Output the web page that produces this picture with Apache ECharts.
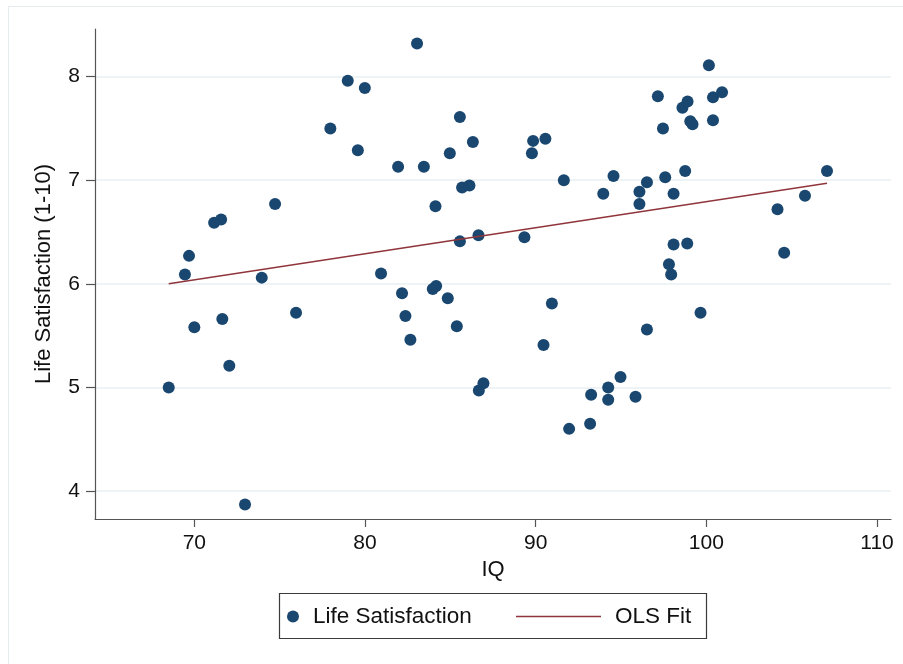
<!DOCTYPE html>
<html>
<head>
<meta charset="utf-8">
<script src="https://cdn.jsdelivr.net/npm/echarts@6/dist/echarts.min.js"></script>
<style>
html,body{margin:0;padding:0;background:#fff;}
#chart{width:903px;height:664px;}
</style>
</head>
<body>
<div id="chart"></div>
<script>
// IQ values (x) and life satisfaction (y)
const iq = [68.5,69.45,69.69,70.0,71.16,71.57,71.64,72.05,72.97,73.95,74.73,75.96,77.97,78.99,79.58,79.99,80.94,81.94,82.17,82.37,82.66,83.05,83.45,83.97,84.17,84.13,84.85,84.97,85.38,85.56,85.56,85.69,86.12,86.32,86.65,86.67,86.94,89.34,89.78,89.85,90.57,90.46,90.95,91.65,91.96,93.19,93.25,93.96,94.25,94.25,94.56,94.97,95.85,96.08,96.08,96.52,96.52,97.16,97.46,97.59,97.81,97.94,98.08,98.08,98.6,98.76,98.88,98.9,99.06,99.19,99.66,100.15,100.39,100.39,100.92,104.17,104.56,105.78,107.07];
const lifeSat = [5.00,6.09,6.27,5.58,6.59,6.62,5.66,5.21,3.87,6.06,6.77,5.72,7.50,7.96,7.29,7.89,6.10,7.13,5.91,5.69,5.46,8.32,7.13,5.95,5.98,6.75,5.86,7.26,5.59,7.61,6.41,6.93,6.95,7.37,6.47,4.97,5.04,6.45,7.26,7.38,7.40,5.41,5.81,7.00,4.60,4.65,4.93,6.87,5.00,4.88,7.04,5.10,4.91,6.89,6.77,6.98,5.56,7.81,7.50,7.03,6.19,6.09,6.87,6.38,7.70,7.09,6.39,7.76,7.57,7.54,5.72,8.11,7.80,7.58,7.85,6.72,6.30,6.85,7.09];
// OLS fit endpoints
const fitX = [68.5, 107.07];
const fitY = [6.00, 6.97];
const xTicks = [70, 80, 90, 100, 110];
const yTicks = [4, 5, 6, 7, 8];

const scatterData = iq.map((v, i) => [v, lifeSat[i]]);
const fitData = fitX.map((v, i) => [v, fitY[i]]);

const FONT = 'Liberation Sans, Arial, Helvetica, sans-serif';
const chart = echarts.init(document.getElementById('chart'), null, {renderer: 'canvas'});
chart.setOption({
  backgroundColor: '#ffffff',
  animation: false,
  graphic: [
    {type: 'rect', shape: {x: 8.5, y: 6.5, width: 1000, height: 1000}, style: {fill: 'none', stroke: '#e6ecee', lineWidth: 1}, z: -1},
    {type: 'rect', shape: {x: 279.5, y: 593.5, width: 427, height: 45}, style: {fill: '#fff', stroke: '#3a3a3a', lineWidth: 1.2}, z: 0}
  ],
  grid: {left: 95, right: 12, top: 29, bottom: 145},
  xAxis: {
    type: 'value', min: 64.18, max: 110.82,
    name: 'IQ', nameLocation: 'middle', nameGap: 40,
    nameTextStyle: {fontFamily: FONT, fontSize: 22, color: '#111'},
    axisLine: {show: true, onZero: false, lineStyle: {color: '#555', width: 1.2}},
    axisTick: {show: true, inside: false, length: 8, lineStyle: {color: '#555', width: 1.2}, customValues: xTicks},
    axisLabel: {fontFamily: FONT, fontSize: 21, color: '#111', margin: 14, customValues: xTicks},
    splitLine: {show: false}
  },
  yAxis: {
    type: 'value', min: 3.73, max: 8.46,
    name: 'Life Satisfaction (1-10)', nameLocation: 'middle', nameGap: 40, nameRotate: 90,
    nameTextStyle: {fontFamily: FONT, fontSize: 22, color: '#111'},
    axisLine: {show: true, onZero: false, lineStyle: {color: '#555', width: 1.2}},
    axisTick: {show: true, inside: false, length: 9, lineStyle: {color: '#555', width: 1.2}, customValues: yTicks},
    axisLabel: {fontFamily: FONT, fontSize: 21, color: '#111', margin: 15, customValues: yTicks},
    splitLine: {show: true, lineStyle: {color: '#e8eff3', width: 1.5}}
  },
  legend: [
    {
      data: ['Life Satisfaction'], left: 287, top: 605, icon: 'circle',
      itemWidth: 12, itemHeight: 12, padding: 0,
      textStyle: {fontFamily: FONT, fontSize: 22.5, color: '#111', padding: [0, 0, 0, 9]}
    },
    {
      data: [{name: 'OLS Fit', icon: 'rect', itemStyle: {color: '#90353b'}}], left: 516, top: 605,
      itemWidth: 85, itemHeight: 1.6, padding: 0,
      textStyle: {fontFamily: FONT, fontSize: 22.5, color: '#111', padding: [0, 0, 0, 9]}
    }
  ],
  series: [
    {
      name: 'Life Satisfaction', type: 'scatter', data: scatterData,
      symbol: 'circle', symbolSize: 12,
      itemStyle: {color: '#1a476f', opacity: 1}
    },
    {
      name: 'OLS Fit', type: 'line', data: fitData, symbol: 'none', showSymbol: false,
      lineStyle: {color: '#90353b', width: 1.5}, itemStyle: {color: '#90353b'}, z: 3
    }
  ]
});
</script>
</body>
</html>
